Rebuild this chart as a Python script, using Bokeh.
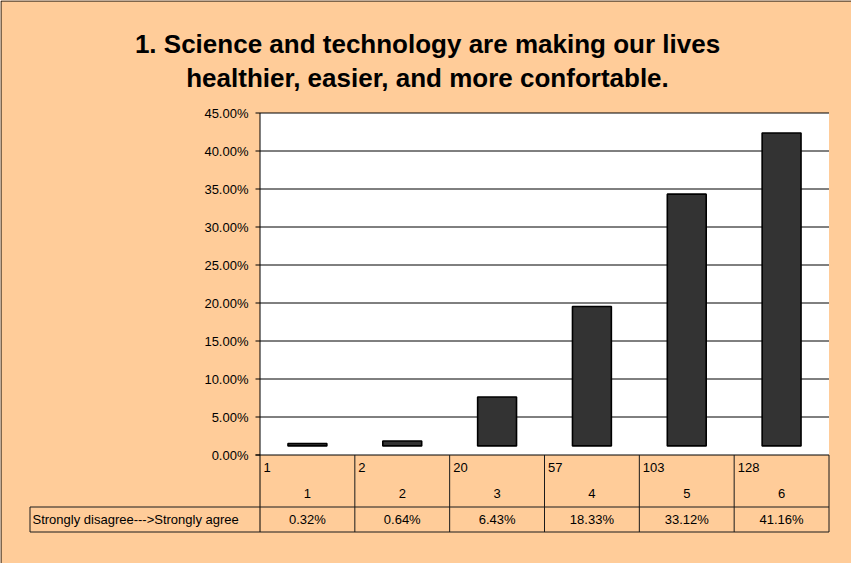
from bokeh.plotting import figure
from bokeh.models import Range1d, ColumnDataSource
from bokeh.embed import file_html
from bokeh.resources import INLINE
from bokeh.core.properties import value

# ---------------- data ----------------
title_lines = ["1. Science and technology are making our lives",
               "healthier, easier, and more confortable."]
categories = ["1", "2", "3", "4", "5", "6"]
counts = [1, 2, 20, 57, 103, 128]
percentages = [0.32, 0.64, 6.43, 18.33, 33.12, 41.16]
row_label = "Strongly disagree--->Strongly agree"
y_ticks = [0, 5, 10, 15, 20, 25, 30, 35, 40, 45]
y_tick_labels = [f"{t:.2f}%" for t in y_ticks]
bar_baseline = 1.2   # bars float slightly above the 0% line in the original

# ---------------- layout (page pixels) ----------------
W, H = 851, 563
MARGIN = 8
PLOT_L, PLOT_R = 267.5, 836.5
PLOT_T, PLOT_B = 120.5, 462.5
ROW1_B, ROW2_B = 514.5, 539.5
LEFT_CELL_L = 37.5
Y_MAX = y_ticks[-1]
CAT_W = (PLOT_R - PLOT_L) / len(categories)
PX_PER = (PLOT_B - PLOT_T) / Y_MAX

FONT = value("Liberation Sans")
BG = "#FFCC99"
LINE = "#1a1a1a"
SMALL = "13px"


def dx(px):
    return 0.5 + (px - PLOT_L) / CAT_W


def dy(py):
    return (PLOT_B - py) / PX_PER


p = figure(width=W, height=H, output_backend="svg", toolbar_location=None,
           x_range=Range1d(dx(MARGIN), dx(MARGIN + W)),
           y_range=Range1d(dy(MARGIN + H), dy(MARGIN)),
           x_axis_location=None, y_axis_location=None,
           min_border=0, tools="")
p.grid.visible = False
p.outline_line_color = None
p.background_fill_color = BG
p.border_fill_color = BG

xs = list(range(1, len(categories) + 1))
x_lo, x_hi = 0.5, len(categories) + 0.5

# plot area
p.quad(left=[x_lo], right=[x_hi], bottom=[0], top=[Y_MAX], fill_color="white", line_color=None)

# gridlines
p.segment(x0=[x_lo] * (len(y_ticks) - 1), x1=[x_hi] * (len(y_ticks) - 1),
          y0=y_ticks[1:], y1=y_ticks[1:], line_color="black", line_width=1)

# bars
src = ColumnDataSource(dict(x=xs, bottom=[bar_baseline] * len(percentages),
                            top=[v + bar_baseline for v in percentages]))
p.vbar(x="x", bottom="bottom", top="top", width=0.41, source=src,
       fill_color="#333333", line_color="black", line_width=1.6)

# y axis line, x axis line, ticks
p.segment(x0=[x_lo], x1=[x_lo], y0=[Y_MAX], y1=[dy(ROW2_B)], line_color="black", line_width=1)
p.segment(x0=[dx(263)], x1=[x_hi], y0=[0], y1=[0], line_color="black", line_width=1)
p.segment(x0=[dx(263)] * len(y_ticks), x1=[x_lo] * len(y_ticks), y0=y_ticks, y1=y_ticks,
          line_color="black", line_width=1)
p.text(x=[dx(256)] * len(y_ticks), y=y_ticks, text=y_tick_labels, text_font=FONT,
       text_font_size=SMALL, text_align="right", text_baseline="middle", text_color="black")

# data table
bounds = [x + 0.5 for x in xs]
p.segment(x0=bounds, x1=bounds, y0=[0] * len(bounds), y1=[dy(ROW2_B)] * len(bounds),
          line_color=LINE, line_width=1)
p.segment(x0=[dx(LEFT_CELL_L)] * 2, x1=[x_hi] * 2, y0=[dy(ROW1_B), dy(ROW2_B)],
          y1=[dy(ROW1_B), dy(ROW2_B)], line_color=LINE, line_width=1)
p.segment(x0=[dx(LEFT_CELL_L)], x1=[dx(LEFT_CELL_L)], y0=[dy(ROW1_B)], y1=[dy(ROW2_B)],
          line_color=LINE, line_width=1)

p.text(x=[x - 0.5 + 3.5 / CAT_W for x in xs], y=[dy(475)] * len(xs), text=[str(c) for c in counts],
       text_font=FONT, text_font_size=SMALL, text_align="left", text_baseline="middle",
       text_color="black")
p.text(x=xs, y=[dy(500.5)] * len(xs), text=categories, text_font=FONT, text_font_size=SMALL,
       text_align="center", text_baseline="middle", text_color="black")
p.text(x=xs, y=[dy(527)] * len(xs), text=[f"{v:.2f}%" for v in percentages], text_font=FONT,
       text_font_size=SMALL, text_align="center", text_baseline="middle", text_color="black")
p.text(x=[dx(40)], y=[dy(527)], text=[row_label], text_font=FONT, text_font_size=SMALL,
       text_align="left", text_baseline="middle", text_color="black")

# title
p.text(x=[dx(435)] * 2, y=[dy(51), dy(85)], text=title_lines, text_font=FONT,
       text_font_size="26px", text_font_style="bold", text_align="center",
       text_baseline="middle", text_color="black")

# chart border (top and left)
p.segment(x0=[dx(MARGIN + 0.5), dx(MARGIN + 0.5)], x1=[dx(MARGIN + W), dx(MARGIN + 0.5)],
          y0=[dy(MARGIN + 0.5), dy(MARGIN + 0.5)], y1=[dy(MARGIN + 0.5), dy(MARGIN + H)],
          line_color="black", line_width=1)

open("out.html", "w").write(file_html(p, INLINE))
